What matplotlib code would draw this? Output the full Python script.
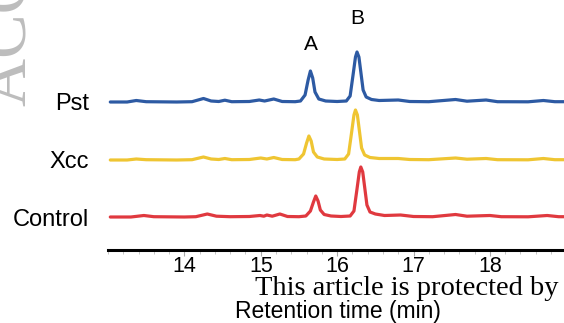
import matplotlib
matplotlib.use('Agg')
import matplotlib.pyplot as plt
from matplotlib.ticker import MultipleLocator

plt.rcParams['font.family'] = ['Liberation Sans', 'DejaVu Sans']

# retention time (min) / detector response (arb. units above each trace baseline)
pst_time = [13.03, 13.25, 13.37, 13.5, 13.9, 14.1, 14.25, 14.35, 14.45, 14.53, 14.62,
            14.85, 14.98, 15.05, 15.17, 15.28, 15.45, 15.52, 15.58, 15.62, 15.65,
            15.68, 15.71, 15.76, 15.85, 16.0, 16.12, 16.17, 16.21, 16.24, 16.26,
            16.285, 16.31, 16.34, 16.38, 16.45, 16.55, 16.8, 16.95, 17.2, 17.55,
            17.7, 17.95, 18.1, 18.5, 18.7, 18.85, 19.0]
pst_signal = [0, 0, 1.5, 0.3, 0, 0.3, 3.5, 1, 0.5, 1.8, 0.3,
              0.5, 2, 1, 3, 0.5, 0.3, 1, 7, 22, 31,
              24, 10, 3, 1, 0.5, 1, 6, 28, 45, 50,
              45, 30, 12, 5, 2.5, 1.5, 2, 0.5, 0.3, 2.5,
              0.8, 2, 0.3, 0.2, 1.5, 0.3, 0.3]

xcc_time = [13.03, 13.25, 13.37, 13.5, 13.9, 14.1, 14.25, 14.35, 14.45, 14.53, 14.62,
            14.85, 15.0, 15.08, 15.17, 15.28, 15.45, 15.5, 15.56, 15.6, 15.63,
            15.66, 15.69, 15.74, 15.83, 16.0, 16.1, 16.15, 16.19, 16.22, 16.24,
            16.265, 16.29, 16.32, 16.36, 16.43, 16.55, 16.8, 16.95, 17.2, 17.55,
            17.7, 17.95, 18.1, 18.5, 18.7, 18.85, 19.0]
xcc_signal = [0, 0, 1, 0.3, 0, 0.3, 3, 1, 0.5, 1.5, 0.3,
              0.5, 2, 1, 2.5, 0.5, 0.3, 1, 6, 17, 24,
              19, 8, 3, 1, 0.5, 1, 6, 28, 45, 50,
              45, 30, 12, 5, 2.5, 1.5, 1.5, 0.5, 0.3, 2,
              0.8, 1.5, 0.3, 0.2, 1.5, 0.3, 0.3]

control_time = [13.03, 13.3, 13.47, 13.6, 14.0, 14.15, 14.3, 14.42, 14.6, 14.85,
                14.99, 15.04, 15.08, 15.15, 15.25, 15.35, 15.5, 15.59, 15.65, 15.69,
                15.72, 15.75, 15.78, 15.83, 15.92, 16.05, 16.17, 16.22, 16.26, 16.29,
                16.31, 16.335, 16.36, 16.39, 16.43, 16.5, 16.62, 16.83, 17.0, 17.25,
                17.55, 17.7, 18.0, 18.15, 18.5, 18.75, 18.9, 19.0]
control_signal = [0, 0, 1.5, 0.3, 0, 0.3, 3, 0.8, 0.3, 0.5,
                  1.5, 0.8, 2, 0.8, 3, 0.5, 0.3, 1, 6, 15,
                  21, 16, 7, 2.5, 1, 0.5, 1, 6, 28, 45,
                  50, 45, 30, 12, 5, 3, 1.5, 2, 0.5, 0.3,
                  2.5, 0.8, 1.5, 0.3, 0.2, 1.5, 0.3, 0.3]

sample_names = ['Pst', 'Xcc', 'Control']
peak_names = ['A', 'B']
peak_times = [15.65, 16.26]
x_ticks = [14, 15, 16, 17, 18]


def main():
    fig = plt.figure(figsize=(5.64, 3.23), dpi=100)
    ax = fig.add_axes([108 / 564, 73 / 323, 456 / 564, 250 / 323])

    traces = [(pst_time, pst_signal, '#2d5aa3', 148),
              (xcc_time, xcc_signal, '#efc532', 90),
              (control_time, control_signal, '#e0393f', 33)]
    for name, (t, s, color, offset) in zip(sample_names, traces):
        ax.plot(t, [v + offset for v in s], color=color, lw=2.3,
                solid_joinstyle='round', solid_capstyle='round')
        ax.text(12.75, offset, name, ha='right', va='center_baseline',
                fontsize=17, clip_on=False)

    # peak labels above the Pst trace
    label_y = [206, 232]
    for name, t, y in zip(peak_names, peak_times, label_y):
        ax.text(t, y, name, ha='center', va='center', fontsize=15)

    ax.set_xlim(13, 18.97)
    ax.set_ylim(0, 250)
    for side in ['left', 'right', 'top']:
        ax.spines[side].set_visible(False)
    ax.spines['bottom'].set_linewidth(2.2)
    ax.set_yticks([])
    ax.set_xticks(x_ticks)
    ax.xaxis.set_minor_locator(MultipleLocator(0.2))
    ax.tick_params(axis='x', which='major', length=4, width=0.8, color='#aaaaaa',
                   labelsize=15.5, pad=0)
    ax.tick_params(axis='x', which='minor', length=3, width=0.6, color='#bbbbbb')

    fig.text(338 / 564, 1 - 318 / 323, 'Retention time (min)', ha='center',
             va='baseline', fontsize=16.5)

    # journal watermarks
    fig.text(41 / 564, 1 - 106 / 323, 'ACCEPTED ARTICLE', rotation=90,
             ha='right', va='bottom', fontsize=48, color='#bdbdbd',
             family='Liberation Serif')
    fig.text(255 / 564, 1 - 295 / 323, 'This article is protected by',
             ha='left', va='baseline', fontsize=20.5, family='Liberation Serif')

    fig.savefig('out.png', dpi=100)


if __name__ == '__main__':
    main()
